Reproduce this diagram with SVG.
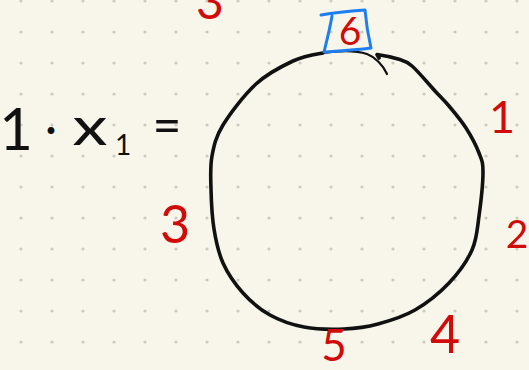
<svg xmlns="http://www.w3.org/2000/svg" width="529" height="370" viewBox="0 0 529 370">
  <style>
    .ink { fill: none; stroke: #111; stroke-linecap: round; stroke-linejoin: round; }
    .red { fill: #d10a0a; font-family: Lato, "Open Sans", "Liberation Sans", sans-serif; font-weight: 400; text-anchor: middle; }
    .blk { fill: #111; font-family: Lato, "Open Sans", "Liberation Sans", sans-serif; font-weight: 400; text-anchor: middle; }
    .box { fill: none; stroke: #1e7ef0; stroke-width: 3; stroke-linecap: round; stroke-linejoin: round; }
  </style>
  <defs>
    <pattern id="grid" x="5" y="-14" width="31" height="31" patternUnits="userSpaceOnUse">
      <circle cx="16" cy="15" r="1.6" fill="#cbcac1"/>
    </pattern>
  </defs>
  <rect width="529" height="370" fill="#f8f6ea"/>
  <rect width="529" height="370" fill="url(#grid)"/>

  <g id="equation">
    <text class="blk" x="16" y="150" font-size="58">1</text>
    <text class="blk" x="51" y="144" font-size="46" font-weight="700">·</text>
    <text class="blk" x="0" y="0" font-size="52" transform="translate(90 145) scale(1.35 1)">x</text>
    <text class="blk" x="123" y="155" font-size="28">1</text>
    <text class="blk" x="167" y="143" font-size="50">=</text>
  </g>

  <g id="circle">
    <path class="ink" stroke-width="3.6" d="M323,53 C313,54.7 304.2,55.8 293,61 C281.8,66.2 267.7,73.3 256,84 C244.3,94.7 230.3,113 223,125 C215.7,137 214,145.3 212,156 C210,166.7 210.7,176.8 211,189 C211.3,201.2 212,216.7 214,229 C216,241.3 218.2,252.3 223,263 C227.8,273.7 235.2,284.3 243,293 C250.8,301.7 259.8,309.3 270,315 C280.2,320.7 291.7,324.7 304,327 C316.3,329.3 331.7,329.5 344,329 C356.3,328.5 366.2,327.2 378,324 C389.8,320.8 403.2,316.8 415,310 C426.8,303.2 439.5,293 449,283 C458.5,273 467,261.2 472,250 C477,238.8 477.2,229 479,216 C480.8,203 483,182.5 483,172 C483,161.5 481.8,160.3 479,153 C476.2,145.7 471,135.8 466,128 C461,120.2 454.2,112.2 449,106 C443.8,99.8 441.2,97.7 435,91 C428.8,84.3 418.2,71.3 412,66 C405.8,60.7 403.8,60.8 398,59 C392.2,57.2 384,55.5 377,54.5 L379,58"/>
    <path class="ink" stroke-width="2.2" d="M323,53 C336,51 355,50 367,54 C375,57 383,65 387,74"/>
  </g>

  <g id="highlight">
    <path class="box" d="M321,15 C335,12.5 351,11 365,10 C366,22 368.5,37 371,48 C356,50 339,51 324,52 C327,40 330,28 332,16"/>
  </g>

  <g id="labels">
    <text class="red" x="210" y="19" font-size="48">3</text>
    <text class="red" x="350" y="45" font-size="39">6</text>
    <text class="red" x="502" y="133" font-size="45">1</text>
    <text class="red" x="175" y="243" font-size="52">3</text>
    <text class="red" x="517" y="248" font-size="39">2</text>
    <text class="red" x="445" y="353" font-size="52">4</text>
    <text class="red" x="334" y="361" font-size="44">5</text>
  </g>
</svg>
